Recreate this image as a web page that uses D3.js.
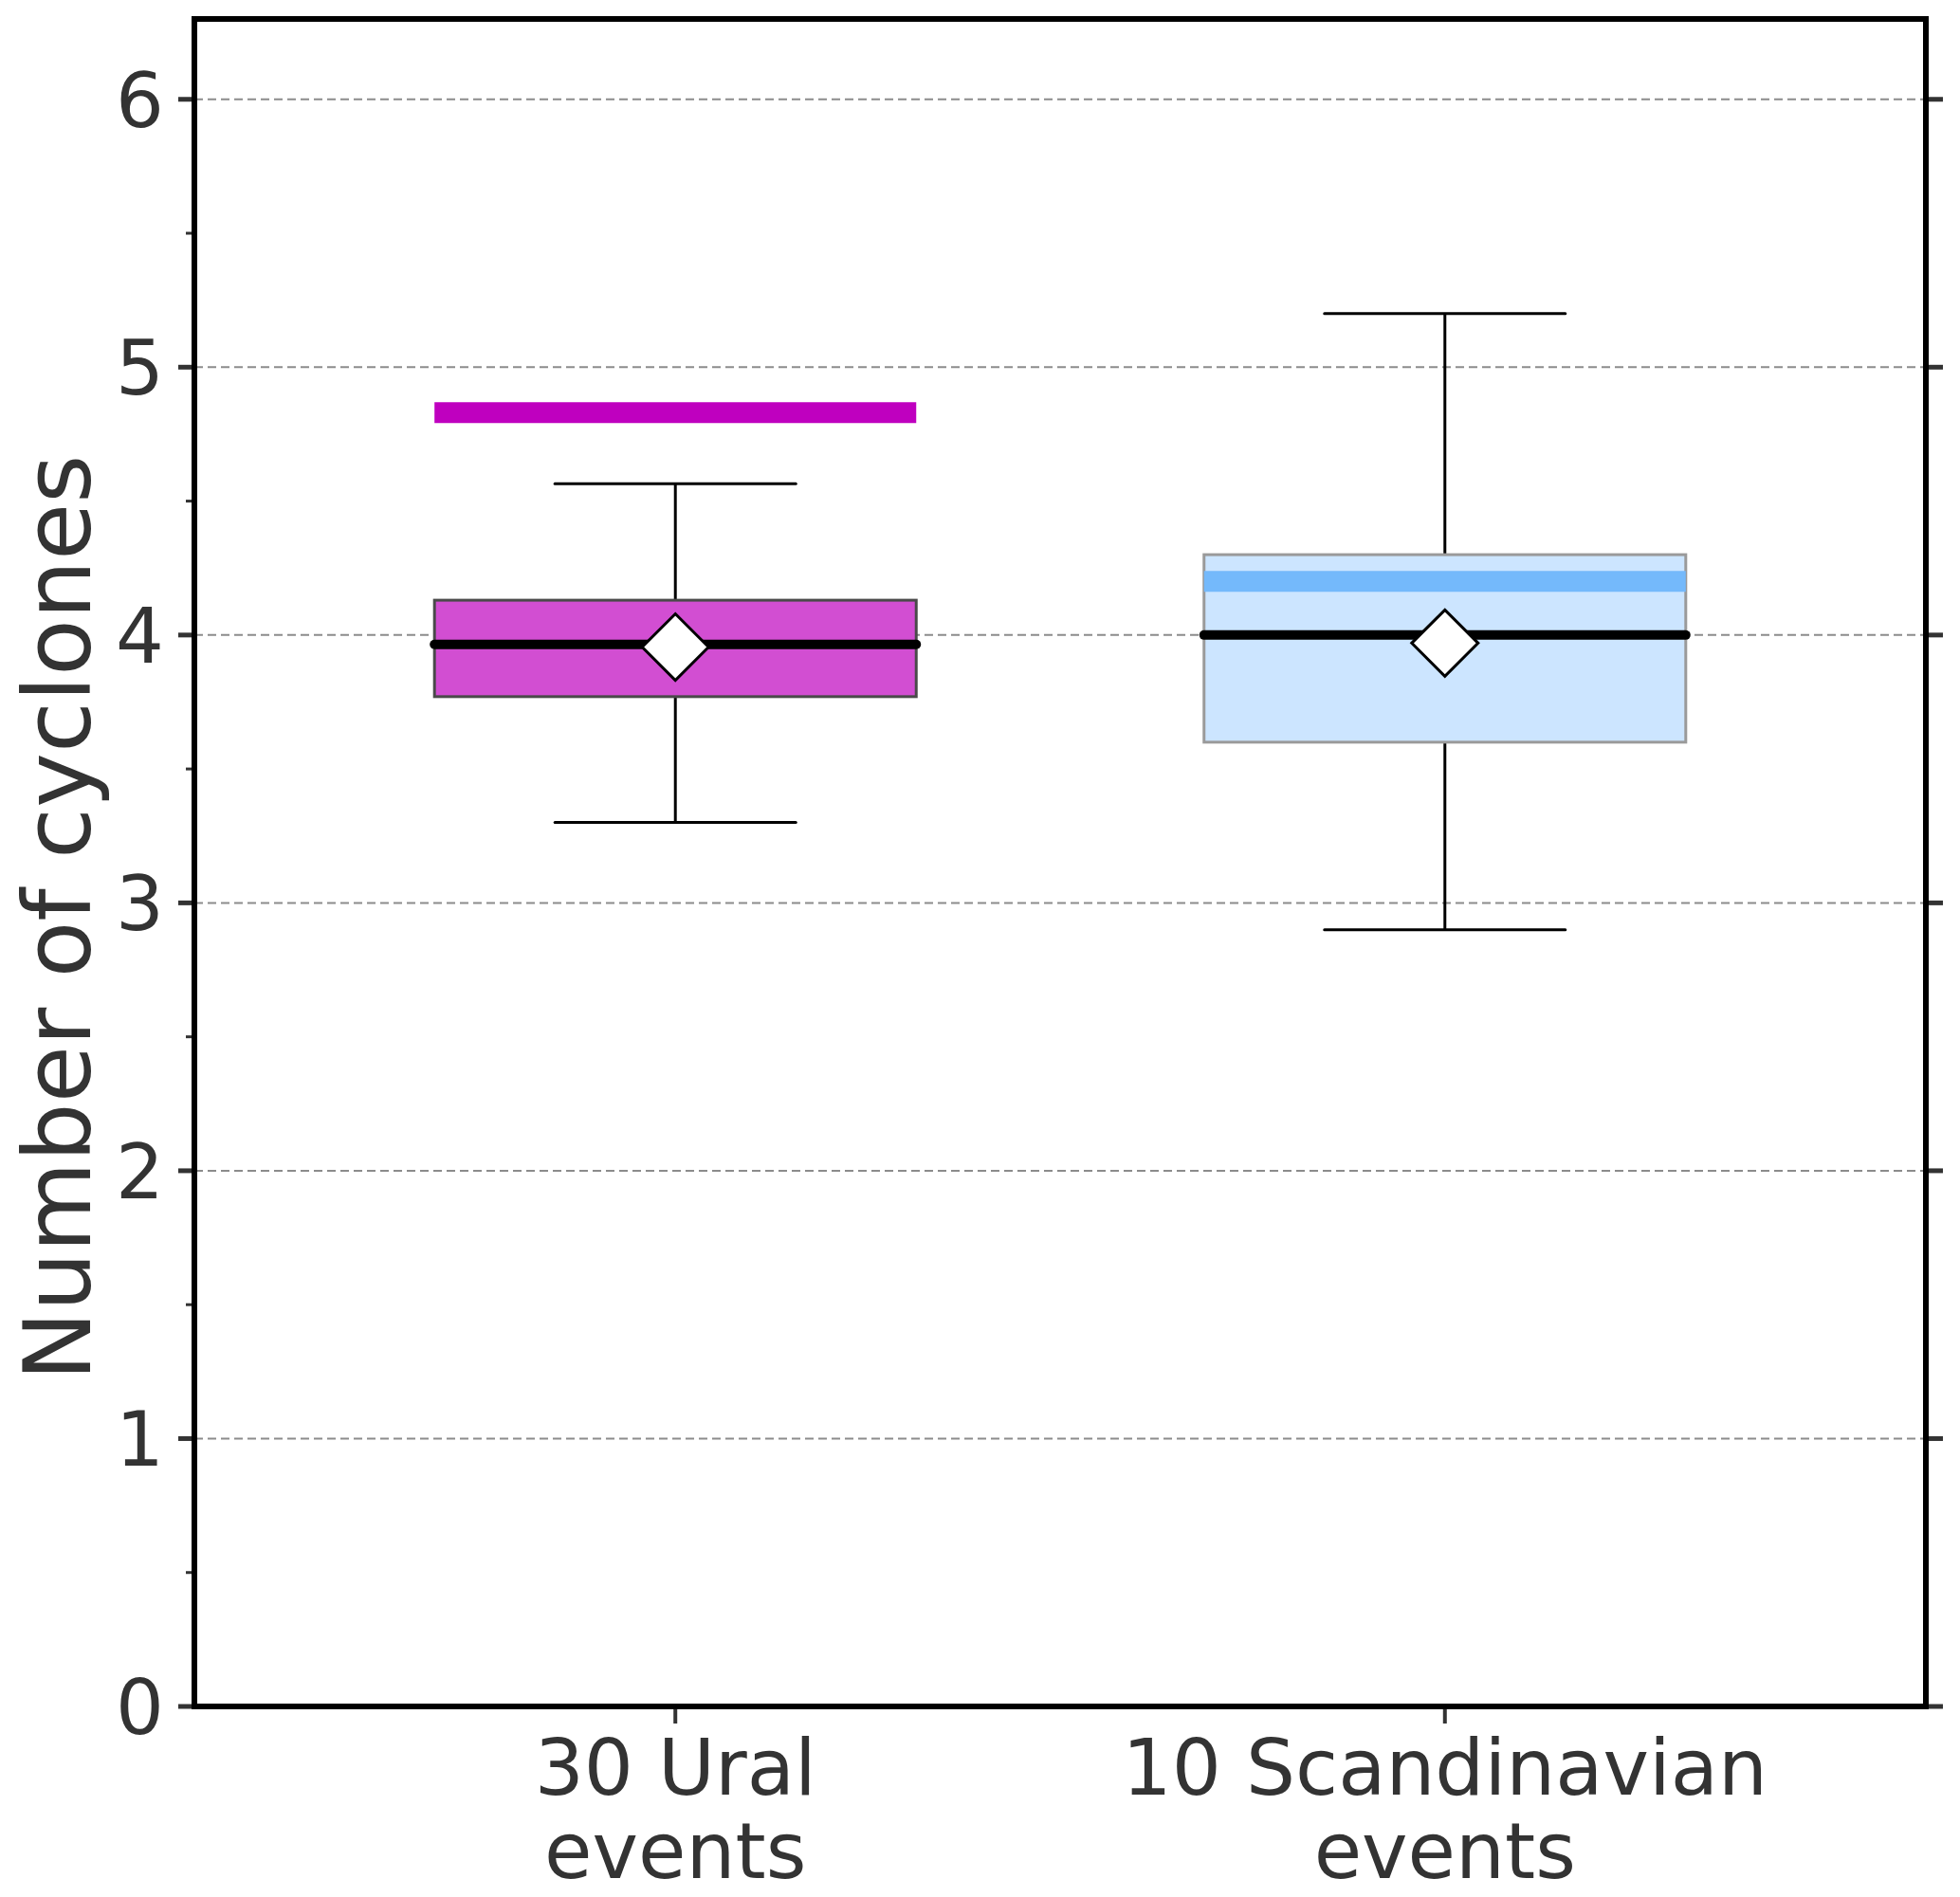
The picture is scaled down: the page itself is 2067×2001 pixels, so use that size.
<!DOCTYPE html>
<html>
<head>
<meta charset="utf-8">
<script src="https://cdn.jsdelivr.net/npm/d3@7"></script>
<style>
  html, body { margin: 0; padding: 0; background: #fff; }
  text { font-family: "DejaVu Sans", sans-serif; fill: #333; }
</style>
</head>
<body>
<div id="chart"></div>
<script>
// Box stats
const categories = ["30 Ural|events", "10 Scandinavian|events"];
const positions = [1, 2];
const whiskerLow = [3.30, 2.90];
const q1 = [3.77, 3.60];
const median = [3.965, 4.00];
const q3 = [4.13, 4.30];
const whiskerHigh = [4.565, 5.20];
const mean = [3.955, 3.97];
const refLine = [4.83, 4.20]; // thick coloured bars
const yTicks = [0, 1, 2, 3, 4, 5, 6];
const yMinorTicks = [0.5, 1.5, 2.5, 3.5, 4.5, 5.5];

const boxFill = ["#d24ed2", "#cce5ff"];
const boxEdge = ["#4a4a4a", "#9a9a9a"];
const barColor = ["#bf00bf", "#74b9fb"];

const W = 2067, H = 2001;
const mLeft = 205, mRight = 2031, mTop = 20, mBottom = 1800;

const svg = d3.select("#chart").append("svg")
    .attr("width", W)
    .attr("height", H);

const x = d3.scaleLinear().domain([0.375, 2.625]).range([mLeft, mRight]);
const y = d3.scaleLinear().domain([0, 6.3]).range([mBottom, mTop]);
const boxW = 0.626;

// grid
svg.append("g").selectAll("line")
    .data(yTicks.slice(1))
    .enter().append("line")
    .attr("x1", mLeft).attr("x2", mRight)
    .attr("y1", d => y(d)).attr("y2", d => y(d))
    .attr("stroke", "#8c8c8c")
    .attr("stroke-width", 2)
    .attr("stroke-dasharray", "9,5");

const data = categories.map((c, i) => ({
    name: c, pos: positions[i], lo: whiskerLow[i], q1: q1[i], med: median[i],
    q3: q3[i], hi: whiskerHigh[i], mean: mean[i], ref: refLine[i], i: i
}));

const g = svg.append("g").selectAll("g").data(data).enter().append("g");

// whiskers
g.append("line")
    .attr("x1", d => x(d.pos)).attr("x2", d => x(d.pos))
    .attr("y1", d => y(d.q3)).attr("y2", d => y(d.hi))
    .attr("stroke", "#000").attr("stroke-width", 3);
g.append("line")
    .attr("x1", d => x(d.pos)).attr("x2", d => x(d.pos))
    .attr("y1", d => y(d.q1)).attr("y2", d => y(d.lo))
    .attr("stroke", "#000").attr("stroke-width", 3);
// caps
[d => d.hi, d => d.lo].forEach(f => {
    g.append("line")
        .attr("x1", d => x(d.pos - boxW / 4)).attr("x2", d => x(d.pos + boxW / 4))
        .attr("y1", d => y(f(d))).attr("y2", d => y(f(d)))
        .attr("stroke", "#000").attr("stroke-width", 3)
        .attr("stroke-linecap", "round");
});

// boxes
g.append("rect")
    .attr("x", d => x(d.pos - boxW / 2))
    .attr("width", d => x(d.pos + boxW / 2) - x(d.pos - boxW / 2))
    .attr("y", d => y(d.q3))
    .attr("height", d => y(d.q1) - y(d.q3))
    .attr("fill", d => boxFill[d.i])
    .attr("stroke", d => boxEdge[d.i])
    .attr("stroke-width", 3);

// coloured reference bars
g.append("line")
    .attr("x1", d => x(d.pos - boxW / 2)).attr("x2", d => x(d.pos + boxW / 2))
    .attr("y1", d => y(d.ref)).attr("y2", d => y(d.ref))
    .attr("stroke", d => barColor[d.i])
    .attr("stroke-width", 22);

// median
g.append("line")
    .attr("x1", d => x(d.pos - boxW / 2)).attr("x2", d => x(d.pos + boxW / 2))
    .attr("y1", d => y(d.med)).attr("y2", d => y(d.med))
    .attr("stroke", "#000").attr("stroke-width", 10)
    .attr("stroke-linecap", "round");

// mean diamond
g.append("path")
    .attr("d", d => {
        const cx = x(d.pos), cy = y(d.mean), r = 35;
        return `M${cx},${cy - r}L${cx + r},${cy}L${cx},${cy + r}L${cx - r},${cy}Z`;
    })
    .attr("fill", "#fff")
    .attr("stroke", "#000")
    .attr("stroke-width", 3);

// y axis ticks and labels
const yAxis = svg.append("g");
yAxis.selectAll("line.maj").data(yTicks).enter().append("line")
    .attr("x1", mLeft - 17).attr("x2", mLeft)
    .attr("y1", d => y(d)).attr("y2", d => y(d))
    .attr("stroke", "#333").attr("stroke-width", 5);
yAxis.selectAll("line.min").data(yMinorTicks).enter().append("line")
    .attr("x1", mLeft - 9).attr("x2", mLeft)
    .attr("y1", d => y(d)).attr("y2", d => y(d))
    .attr("stroke", "#333").attr("stroke-width", 3);
yAxis.selectAll("line.rt").data(yTicks).enter().append("line")
    .attr("x1", mRight).attr("x2", mRight + 18)
    .attr("y1", d => y(d)).attr("y2", d => y(d))
    .attr("stroke", "#333").attr("stroke-width", 5);
yAxis.selectAll("text").data(yTicks).enter().append("text")
    .attr("x", mLeft - 32)
    .attr("y", d => y(d))
    .attr("dy", "0.36em")
    .attr("text-anchor", "end")
    .attr("font-size", 80)
    .text(d => d);

// x axis ticks and labels
const xAxis = svg.append("g");
xAxis.selectAll("line").data(data).enter().append("line")
    .attr("x1", d => x(d.pos)).attr("x2", d => x(d.pos))
    .attr("y1", mBottom).attr("y2", mBottom + 18)
    .attr("stroke", "#333").attr("stroke-width", 4);
const xt = xAxis.selectAll("text").data(data).enter().append("text")
    .attr("text-anchor", "middle")
    .attr("font-size", 82);
xt.each(function(d) {
    const lines = d.name.split("|");
    d3.select(this).selectAll("tspan").data(lines).enter().append("tspan")
        .attr("x", x(d.pos))
        .attr("y", (l, k) => 1893 + k * 88)
        .text(l => l);
});

// y label
svg.append("text")
    .attr("transform", `translate(95,968) rotate(-90)`)
    .attr("text-anchor", "middle")
    .attr("font-size", 98)
    .text("Number of cyclones");

// frame
svg.append("rect")
    .attr("x", mLeft).attr("y", mTop)
    .attr("width", mRight - mLeft).attr("height", mBottom - mTop)
    .attr("fill", "none")
    .attr("stroke", "#000")
    .attr("stroke-width", 6);
</script>
</body>
</html>
